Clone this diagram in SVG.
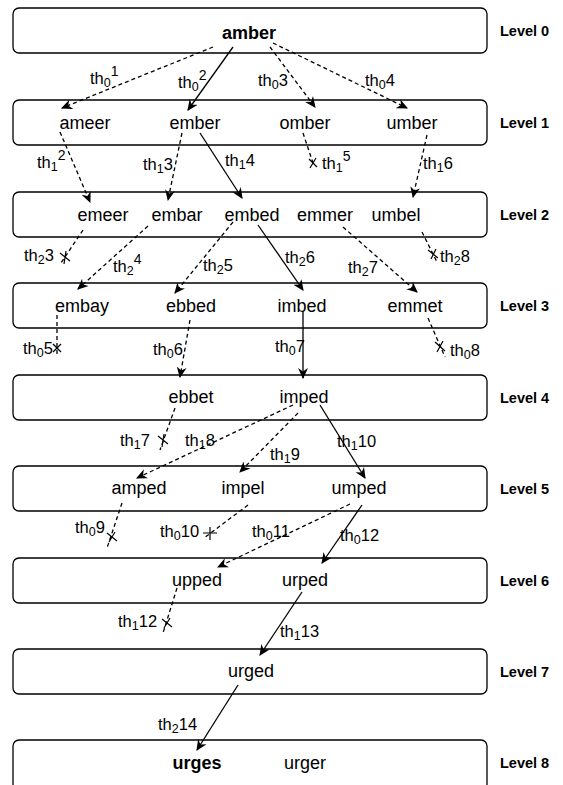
<svg xmlns="http://www.w3.org/2000/svg" width="563" height="785" viewBox="0 0 563 785">
<defs>
<marker id="arr" viewBox="0 0 10 10" refX="9" refY="5" markerWidth="11" markerHeight="11" markerUnits="userSpaceOnUse" orient="auto">
<path d="M0,0.5 L10,5 L0,9.5 L3,5 Z" fill="#000"/>
</marker>
<style>
.box{fill:#fff;stroke:#000;stroke-width:1.3}
.node{font-family:"Liberation Sans",Arial,sans-serif;font-size:18px;text-anchor:middle;fill:#000}
.bold{font-weight:bold}
.lvl{font-family:"Liberation Sans",Arial,sans-serif;font-size:14.5px;font-weight:bold;fill:#000}
.lbl{font-family:"Liberation Sans",Arial,sans-serif;font-size:16.5px;fill:#000}
.sub{font-size:12.5px}
.sup{font-size:14px}
.e{fill:none;stroke:#000;stroke-width:1.3}
.d{stroke-dasharray:4,3}
.a{marker-end:url(#arr)}
.x{stroke:#000;stroke-width:1.2;fill:none}
</style>
</defs>
<g id="levels">
<g id="level0"><rect class="box" x="13" y="8" width="474" height="45" rx="6"/><text class="lvl" x="500" y="36">Level 0</text></g>
<g id="level1"><rect class="box" x="13" y="100" width="474" height="45" rx="6"/><text class="lvl" x="500" y="128">Level 1</text></g>
<g id="level2"><rect class="box" x="13" y="192" width="474" height="45" rx="6"/><text class="lvl" x="500" y="220">Level 2</text></g>
<g id="level3"><rect class="box" x="13" y="283" width="474" height="45" rx="6"/><text class="lvl" x="500" y="311">Level 3</text></g>
<g id="level4"><rect class="box" x="13" y="375" width="474" height="45" rx="6"/><text class="lvl" x="500" y="403">Level 4</text></g>
<g id="level5"><rect class="box" x="13" y="466" width="474" height="45" rx="6"/><text class="lvl" x="500" y="494">Level 5</text></g>
<g id="level6"><rect class="box" x="13" y="558" width="474" height="45" rx="6"/><text class="lvl" x="500" y="586">Level 6</text></g>
<g id="level7"><rect class="box" x="13" y="649" width="474" height="45" rx="6"/><text class="lvl" x="500" y="677">Level 7</text></g>
<g id="level8"><rect class="box" x="13" y="740" width="474" height="50" rx="6"/><text class="lvl" x="500" y="768">Level 8</text></g>
</g>
<g id="n-amber"><text class="node bold" x="249" y="39">amber</text></g>
<g id="n-ameer"><text class="node" x="85" y="129">ameer</text></g>
<g id="n-ember"><text class="node" x="195" y="129">ember</text></g>
<g id="n-omber"><text class="node" x="305" y="129">omber</text></g>
<g id="n-umber"><text class="node" x="412" y="129">umber</text></g>
<g id="n-emeer"><text class="node" x="103" y="221">emeer</text></g>
<g id="n-embar"><text class="node" x="177" y="221">embar</text></g>
<g id="n-embed"><text class="node" x="252" y="221">embed</text></g>
<g id="n-emmer"><text class="node" x="325" y="221">emmer</text></g>
<g id="n-umbel"><text class="node" x="396" y="221">umbel</text></g>
<g id="n-embay"><text class="node" x="82" y="312">embay</text></g>
<g id="n-ebbed"><text class="node" x="191" y="312">ebbed</text></g>
<g id="n-imbed"><text class="node" x="302" y="312">imbed</text></g>
<g id="n-emmet"><text class="node" x="415" y="312">emmet</text></g>
<g id="n-ebbet"><text class="node" x="191" y="403">ebbet</text></g>
<g id="n-imped"><text class="node" x="304" y="403">imped</text></g>
<g id="n-amped"><text class="node" x="139" y="494">amped</text></g>
<g id="n-impel"><text class="node" x="243" y="494">impel</text></g>
<g id="n-umped"><text class="node" x="359" y="494">umped</text></g>
<g id="n-upped"><text class="node" x="197" y="586">upped</text></g>
<g id="n-urped"><text class="node" x="305" y="586">urped</text></g>
<g id="n-urged"><text class="node" x="251" y="677">urged</text></g>
<g id="n-urges"><text class="node bold" x="197" y="769">urges</text></g>
<g id="n-urger"><text class="node" x="305" y="769">urger</text></g>
<g id="connectors">
<path class="e d a" d="M213,47 L62,108"/>
<path class="e a" d="M233,47 L188,110"/>
<path class="e d a" d="M270,47 L315,107"/>
<path class="e d a" d="M273,43 L407,108"/>
<path class="e d a" d="M60,132 L90,202"/>
<path class="e d a" d="M182,133 L168,200"/>
<path class="e a" d="M200,133 L242,198"/>
<path class="e d" d="M303,133 L313,163"/>
<path class="x" d="M309,159 L317,167 M316,158 L310,168"/>
<path class="e d a" d="M427,135 L413,197"/>
<path class="e d" d="M83,230 L65,257 L61,263"/>
<path class="x" d="M60,253 L70,261 M66,251 L64,264"/>
<path class="e d a" d="M148,226 L78,289"/>
<path class="e d a" d="M233,222 L175,293"/>
<path class="e a" d="M258,225 L303,290"/>
<path class="e d a" d="M343,227 L417,292"/>
<path class="e d" d="M422,232 L433,254 L437,262"/>
<path class="x" d="M428,250 L438,258 M436,249 L431,259"/>
<path class="e d" d="M57,315 L57,355"/>
<path class="x" d="M53,344 L61,352 M61,344 L53,352"/>
<path class="e d a" d="M190,320 L180,377"/>
<path class="e a" d="M303,312 L303,378"/>
<path class="e d" d="M428,318 L445,357"/>
<path class="x" d="M435,342 L445,351 M443,341 L437,352"/>
<path class="e d" d="M175,408 L160,450"/>
<path class="x" d="M158,436 L168,444 M164,434 L162,447"/>
<path class="e d a" d="M293,405 L137,478"/>
<path class="e d a" d="M298,413 L240,472"/>
<path class="e a" d="M320,405 L365,478"/>
<path class="e d" d="M122,503 L107,548"/>
<path class="x" d="M107,533 L117,541 M115,532 L109,542"/>
<path class="e d" d="M248,505 L204,538"/>
<path class="x" d="M203,533 L217,533 M210,527 L210,540"/>
<path class="e d a" d="M350,504 L218,567"/>
<path class="e a" d="M362,505 L322,563"/>
<path class="e d" d="M177,588 L163,633"/>
<path class="x" d="M162,619 L172,627 M170,618 L164,628"/>
<path class="e a" d="M302,592 L260,655"/>
<path class="e a" d="M238,685 L197,750"/>
</g>
<g id="edge-labels">
<text class="lbl" x="90" y="84">th<tspan class="sub" dy="3">0</tspan><tspan class="sup" dy="-11">1</tspan></text>
<text class="lbl" x="178" y="88">th<tspan class="sub" dy="3">0</tspan><tspan class="sup" dy="-11">2</tspan></text>
<text class="lbl" x="258" y="86">th<tspan class="sub" dy="3">0</tspan><tspan dy="-3">3</tspan></text>
<text class="lbl" x="365" y="86">th<tspan class="sub" dy="3">0</tspan><tspan dy="-3">4</tspan></text>
<text class="lbl" x="37" y="168">th<tspan class="sub" dy="3">1</tspan><tspan class="sup" dy="-11">2</tspan></text>
<text class="lbl" x="143" y="170">th<tspan class="sub" dy="3">1</tspan><tspan dy="-3">3</tspan></text>
<text class="lbl" x="225" y="166">th<tspan class="sub" dy="3">1</tspan><tspan dy="-3">4</tspan></text>
<text class="lbl" x="322" y="169">th<tspan class="sub" dy="3">1</tspan><tspan class="sup" dy="-11">5</tspan></text>
<text class="lbl" x="423" y="169">th<tspan class="sub" dy="3">1</tspan><tspan dy="-3">6</tspan></text>
<text class="lbl" x="24" y="261">th<tspan class="sub" dy="3">2</tspan><tspan dy="-3">3</tspan></text>
<text class="lbl" x="113" y="272">th<tspan class="sub" dy="3">2</tspan><tspan class="sup" dy="-11">4</tspan></text>
<text class="lbl" x="203" y="271">th<tspan class="sub" dy="3">2</tspan><tspan dy="-3">5</tspan></text>
<text class="lbl" x="285" y="263">th<tspan class="sub" dy="3">2</tspan><tspan dy="-3">6</tspan></text>
<text class="lbl" x="348" y="273">th<tspan class="sub" dy="3">2</tspan><tspan dy="-3">7</tspan></text>
<text class="lbl" x="440" y="262">th<tspan class="sub" dy="3">2</tspan><tspan dy="-3">8</tspan></text>
<text class="lbl" x="23" y="354">th<tspan class="sub" dy="3">0</tspan><tspan dy="-3">5</tspan></text>
<text class="lbl" x="153" y="355">th<tspan class="sub" dy="3">0</tspan><tspan dy="-3">6</tspan></text>
<text class="lbl" x="275" y="352">th<tspan class="sub" dy="3">0</tspan><tspan dy="-3">7</tspan></text>
<text class="lbl" x="450" y="356">th<tspan class="sub" dy="3">0</tspan><tspan dy="-3">8</tspan></text>
<text class="lbl" x="120" y="446">th<tspan class="sub" dy="3">1</tspan><tspan dy="-3">7</tspan></text>
<text class="lbl" x="185" y="446">th<tspan class="sub" dy="3">1</tspan><tspan dy="-3">8</tspan></text>
<text class="lbl" x="270" y="460">th<tspan class="sub" dy="3">1</tspan><tspan dy="-3">9</tspan></text>
<text class="lbl" x="337" y="447">th<tspan class="sub" dy="3">1</tspan><tspan dy="-3">10</tspan></text>
<text class="lbl" x="75" y="533">th<tspan class="sub" dy="3">0</tspan><tspan dy="-3">9</tspan></text>
<text class="lbl" x="160" y="537">th<tspan class="sub" dy="3">0</tspan><tspan dy="-3">10</tspan></text>
<text class="lbl" x="252" y="537">th<tspan class="sub" dy="3">0</tspan><tspan dy="-3">11</tspan></text>
<text class="lbl" x="340" y="541">th<tspan class="sub" dy="3">0</tspan><tspan dy="-3">12</tspan></text>
<text class="lbl" x="118" y="627">th<tspan class="sub" dy="3">1</tspan><tspan dy="-3">12</tspan></text>
<text class="lbl" x="280" y="637">th<tspan class="sub" dy="3">1</tspan><tspan dy="-3">13</tspan></text>
<text class="lbl" x="158" y="730">th<tspan class="sub" dy="3">2</tspan><tspan dy="-3">14</tspan></text>
</g>
</svg>
